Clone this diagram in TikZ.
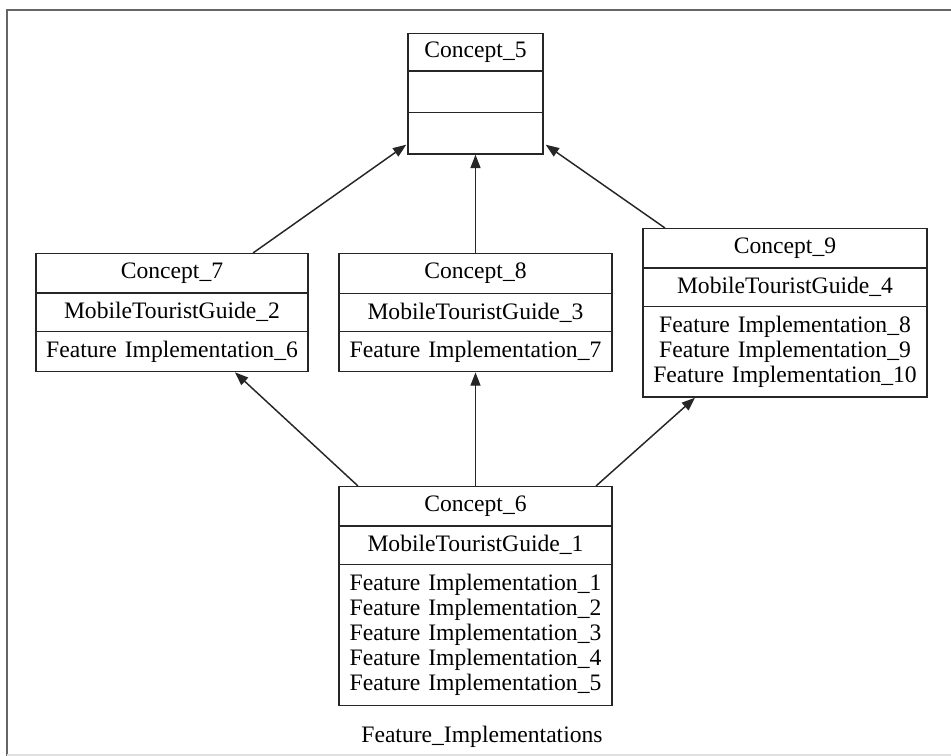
\documentclass[tikz,border=0pt]{standalone}
\usepackage{fontspec}
\setmainfont{Liberation Serif}
\usetikzlibrary{shapes.multipart,arrows.meta,calc}

\begin{document}
\begin{tikzpicture}[x=0.75pt,y=-0.75pt,
  txt/.style={font=\fontsize{17.7}{18.9}\selectfont},
  umlbox/.style={txt, draw=black!85, line width=1.1pt, fill=white,
    rectangle split, rectangle split parts=3, rectangle split part align=center,
    align=center, inner xsep=0pt, inner ysep=6.5pt, anchor=north},
  link/.style={draw=black!85, line width=1.1pt,
    -{Triangle[length=10pt,width=7.5pt]}, shorten >=0pt}
]
\useasboundingbox (0,0) rectangle (951,756);

% outer frame
\draw[black!60, line width=1.6pt] (7,756) -- (7,10) -- (951,10);
\draw[black!12, line width=1pt] (7,755) -- (951,755);

% classes
\node[umlbox, text width=101.25pt, inner ysep=5.6pt] (c5) at (475.5,33)
  {Concept\_5 \nodepart{second}\strut \nodepart{third}\strut};

\node[umlbox, text width=204pt] (c7) at (172,253)
  {Concept\_7 \nodepart{second}MobileTouristGuide\_2
   \nodepart{third}Feature Implementation\_6};

\node[umlbox, text width=204.75pt] (c8) at (475.5,253)
  {Concept\_8 \nodepart{second}MobileTouristGuide\_3
   \nodepart{third}Feature Implementation\_7};

\node[umlbox, text width=213pt] (c9) at (785,228)
  {Concept\_9 \nodepart{second}MobileTouristGuide\_4
   \nodepart{third}Feature Implementation\_8\\Feature Implementation\_9\\Feature Implementation\_10};

\node[umlbox, text width=204.75pt] (c6) at (475.5,486)
  {Concept\_6 \nodepart{second}MobileTouristGuide\_1
   \nodepart{third}Feature Implementation\_1\\Feature Implementation\_2\\Feature Implementation\_3\\Feature Implementation\_4\\Feature Implementation\_5};

% generalisation links
\draw[link] ($(c7.north)+(81,0)$) -- ($(c5.south west)+(-1,-10)$);
\draw[link] (c8.north) -- (c5.south);
\draw[link] ($(c9.north)+(-120,0)$) -- ($(c5.south east)+(2,-10)$);
\draw[link] ($(c6.north)+(-117.5,0)$) -- ($(c7.south)+(63,0)$);
\draw[link] (c6.north) -- (c8.south);
\draw[link] ($(c6.north)+(120.5,0)$) -- ($(c9.south)+(-90,0)$);

% caption
\node[txt] (cap) at (482,737) {Feature\_Implementations};
\end{tikzpicture}
\end{document}
